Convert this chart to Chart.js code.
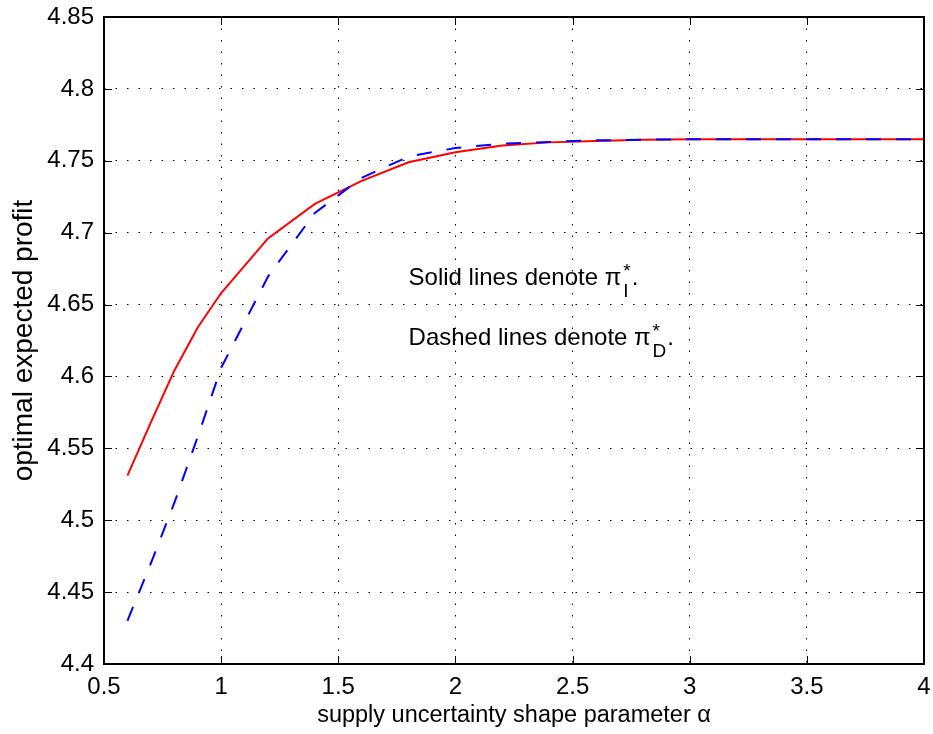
<!DOCTYPE html>
<html>
<head>
<meta charset="utf-8">
<title>Optimal expected profit</title>
<script src="https://cdn.jsdelivr.net/npm/chart.js@4.4.0/dist/chart.umd.min.js"></script>
<style>
  html, body { margin: 0; padding: 0; background: #fff; }
  canvas { display: block; }
</style>
</head>
<body>
<canvas id="profit-chart" width="933" height="734"></canvas>
<script>
// supply uncertainty shape parameter (alpha) samples
const alphaValues = [0.6, 0.7, 0.8, 0.9, 1.0, 1.2, 1.4, 1.6, 1.8, 2.0, 2.2, 2.4, 2.6, 2.8, 3.0, 3.2, 3.4, 3.6, 3.8, 4.0];
// optimal expected profit, pi_I* (solid) and pi_D* (dashed)
const profitI = [4.531, 4.568, 4.604, 4.634, 4.658, 4.696, 4.720, 4.736, 4.749, 4.756, 4.7607, 4.7628, 4.7638, 4.7647, 4.765, 4.765, 4.765, 4.765, 4.765, 4.765];
const profitD = [4.430, 4.470, 4.512, 4.558, 4.606, 4.6695, 4.7137, 4.7382, 4.7529, 4.7589, 4.7619, 4.7631, 4.7642, 4.7647, 4.765, 4.765, 4.765, 4.765, 4.765, 4.765];

const xTicks = [0.5, 1, 1.5, 2, 2.5, 3, 3.5, 4];
const yTicks = [4.4, 4.45, 4.5, 4.55, 4.6, 4.65, 4.7, 4.75, 4.8, 4.85];

// text notes inside the axes (data coordinates of the left/middle anchor)
const noteText = ["Solid lines denote \u03c0", "Dashed lines denote \u03c0"];
const noteSub = ["I", "D"];
const noteX = 1.8;
const noteY = [4.669, 4.627];

const FONT = '"Liberation Sans", Arial, Helvetica, sans-serif';
const tickLen = 8;

Chart.defaults.font.family = FONT;
Chart.defaults.color = "#000";

function fmt(v) {
  return String(Math.round(v * 100) / 100);
}

function toPoints(ys) {
  return alphaValues.map((a, i) => ({ x: a, y: ys[i] }));
}

// keep label overhang from shrinking the plot box
function noOverhang(s) {
  s.paddingLeft = 0;
  s.paddingRight = 0;
  s.paddingTop = 0;
  s.paddingBottom = 0;
}

// box, inward ticks and the pi notes
const frameAndNotes = {
  id: "frameAndNotes",
  afterDraw(chart) {
    const { ctx, chartArea: a, scales: { x, y } } = chart;
    ctx.save();
    ctx.strokeStyle = "#000";
    ctx.lineWidth = 1;
    ctx.beginPath();
    xTicks.forEach(v => {
      const px = Math.round(x.getPixelForValue(v)) + 0.5;
      ctx.moveTo(px, a.bottom); ctx.lineTo(px, a.bottom - tickLen);
      ctx.moveTo(px, a.top); ctx.lineTo(px, a.top + tickLen);
    });
    yTicks.forEach(v => {
      const py = Math.round(y.getPixelForValue(v)) + 0.5;
      ctx.moveTo(a.left, py); ctx.lineTo(a.left + tickLen, py);
      ctx.moveTo(a.right, py); ctx.lineTo(a.right - tickLen, py);
    });
    ctx.stroke();

    ctx.lineWidth = 2;
    ctx.strokeRect(a.left, a.top, a.right - a.left, a.bottom - a.top);

    ctx.fillStyle = "#000";
    ctx.textAlign = "left";
    ctx.textBaseline = "alphabetic";
    noteText.forEach((txt, i) => {
      const x0 = x.getPixelForValue(noteX);
      const base = y.getPixelForValue(noteY[i]) + 7.5;
      ctx.font = `24px ${FONT}`;
      ctx.fillText(txt, x0, base);
      const sx = x0 + ctx.measureText(txt).width + 2;
      ctx.font = `19px ${FONT}`;
      ctx.fillText(noteSub[i], sx, base + 12);
      const subW = ctx.measureText(noteSub[i]).width;
      ctx.fillText("*", sx, base - 8);
      const starW = ctx.measureText("*").width;
      ctx.font = `24px ${FONT}`;
      ctx.fillText(".", sx + Math.max(subW, starW) + 1, base);
    });
    ctx.restore();
  }
};

const ctx = document.getElementById("profit-chart").getContext("2d");
new Chart(ctx, {
  type: "line",
  data: {
    datasets: [
      {
        label: "pi_D*",
        data: toPoints(profitD),
        borderColor: "#0000ff",
        borderWidth: 2,
        borderDash: [15, 15],
        pointRadius: 0,
        tension: 0,
        fill: false,
        order: 0
      },
      {
        label: "pi_I*",
        data: toPoints(profitI),
        borderColor: "#ff0000",
        borderWidth: 2,
        pointRadius: 0,
        tension: 0,
        fill: false,
        order: 1
      }
    ]
  },
  options: {
    responsive: false,
    animation: false,
    devicePixelRatio: 1,
    layout: { padding: { top: 17, right: 9, left: 0, bottom: 0 } },
    plugins: { legend: { display: false }, tooltip: { enabled: false } },
    scales: {
      x: {
        type: "linear",
        min: 0.5,
        max: 4,
        afterBuildTicks: s => { s.ticks = xTicks.map(v => ({ value: v })); },
        afterFit: s => { s.height = 70; noOverhang(s); },
        ticks: { font: { size: 24 }, padding: 9, maxRotation: 0, callback: fmt },
        grid: { color: "#000", lineWidth: 1, drawTicks: false },
        border: { display: false, dash: [1.5, 10] },
        title: {
          display: true,
          text: "supply uncertainty shape parameter \u03b1",
          font: { size: 23.5 },
          padding: { top: 0, bottom: 4 }
        }
      },
      y: {
        type: "linear",
        min: 4.4,
        max: 4.85,
        afterBuildTicks: s => { s.ticks = yTicks.map(v => ({ value: v })); },
        afterFit: s => { s.width = 104; noOverhang(s); },
        ticks: { font: { size: 24 }, padding: 10, callback: fmt },
        grid: { color: "#000", lineWidth: 1, drawTicks: false },
        border: { display: false, dash: [1.5, 10] },
        title: {
          display: true,
          text: "optimal expected profit",
          font: { size: 28 },
          padding: { top: 7.5, bottom: 0 }
        }
      }
    }
  },
  plugins: [frameAndNotes]
});
</script>
</body>
</html>
